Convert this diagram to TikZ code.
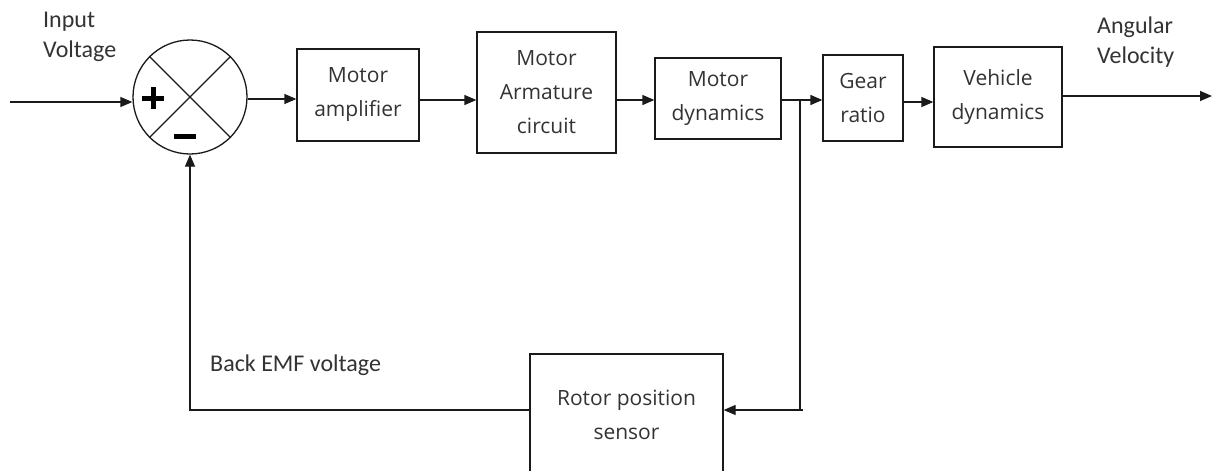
\documentclass[tikz,border=0pt]{standalone}
\usepackage{fontspec}
\setmainfont{Open Sans}
\newfontfamily\lblfont{Carlito}
\usepackage{xcolor}
\usetikzlibrary{arrows.meta,positioning,calc}
\definecolor{ink}{HTML}{1A1A1A}
\definecolor{txtgray}{HTML}{333333}
\tikzset{
  blk/.style={draw=ink,line width=1.3pt,align=center,inner sep=0pt,
              text=txtgray,font=\fontsize{21}{34}\selectfont},
  sumnode/.style={draw=ink,line width=1.3pt,circle,minimum size=114pt,inner sep=0pt},
  lbl/.style={anchor=west,align=left,inner sep=0pt,text=txtgray,
              font=\lblfont\fontsize{24}{30}\selectfont},
  wire/.style={draw=ink,line width=1.3pt},
  arr/.style={-{Triangle[length=12pt,width=10pt]},line width=1.3pt,draw=ink},
  sign/.style={draw=black,line width=5pt}
}
\begin{document}
\begin{tikzpicture}[x=1pt,y=-1pt]
    \useasboundingbox[fill=white] (0,0) rectangle (1215,471);
    \node[sumnode] (sum) at (190,97) {};
    \node[blk,minimum width=122pt,minimum height=92pt] (amp) at (358,95)
      {Motor\\amplifier};
    \node[blk,minimum width=139pt,minimum height=121pt] (arm) at (546.5,92.5)
      {Motor\\Armature\\circuit};
    \node[blk,minimum width=126pt,minimum height=81pt] (mdyn) at (718,98.5)
      {Motor\\dynamics};
    \node[blk,minimum width=80pt,minimum height=86pt] (gear) at (863,98)
      {Gear\\ratio};
    \node[blk,minimum width=128pt,minimum height=100pt] (veh) at (998,97)
      {Vehicle\\dynamics};
    \node[blk,minimum width=193pt,minimum height=122pt] (sensor) at (626.5,415)
      {Rotor position\\sensor};
    \node[lbl] (inlbl) at (43,37) {Input\\Voltage};
    \node[lbl] (outlbl) at (1097,42) {Angular\\Velocity};
    \node[lbl] (emflbl) at (210,365) {Back EMF voltage};
    \draw[wire] (sum.north west) -- (sum.south east) (sum.north east) -- (sum.south west);
    \draw[sign] (142,98) -- (164,98) (153,87) -- (153,109);
    \draw[sign] (174,136) -- (196,136);
    \coordinate (in) at (10,102);
    \coordinate (lvl) at (0,100);
    \coordinate (br) at (800,100);
    \coordinate (fb) at (803,410);
    \coordinate (out) at (1212,96);
    \draw[arr] (in) -- (in -| sum.west);
    \draw[arr] (sum.east |- 0,99) -- (amp.west |- 0,99);
    \draw[arr] (amp.east |- lvl) -- (arm.west |- lvl);
    \draw[arr] (arm.east |- lvl) -- (mdyn.west |- lvl);
    \draw[arr] (mdyn.east |- lvl) -- (gear.west |- lvl);
    \draw[arr] (gear.east |- 0,102) -- (veh.west |- 0,102);
    \draw[arr] (veh.east |- out) -- (out);
    \draw[wire] (br) -- (br |- fb);
    \draw[arr] (fb) -- (sensor.east |- fb);
    \draw[arr] (sensor.west |- fb) -| (sum.south);
\end{tikzpicture}
\end{document}
